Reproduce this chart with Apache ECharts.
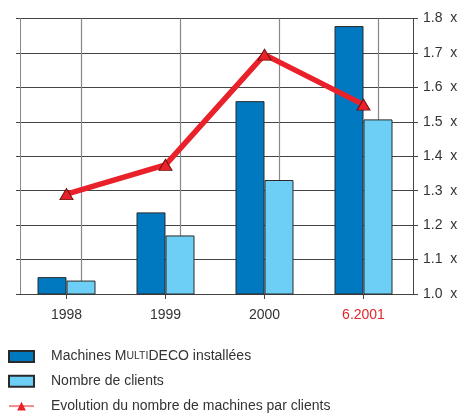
<!DOCTYPE html>
<html>
<head>
<meta charset="utf-8">
<script src="https://cdn.jsdelivr.net/npm/echarts@6/dist/echarts.min.js"></script>
<style>html,body{margin:0;padding:0;background:#fff}#c{width:462px;height:416px}</style>
</head>
<body>
<div id="c"></div>
<script>
var categories = ['1998', '1999', '2000', '6.2001'];
var machines = [1.049, 1.237, 1.560, 1.778];
var clients = [1.039, 1.170, 1.331, 1.507];
var ratio = [1.29, 1.375, 1.695, 1.55];
var yTicks = [1.0, 1.1, 1.2, 1.3, 1.4, 1.5, 1.6, 1.7, 1.8];
var labelColors = ['#333', '#333', '#333', '#e3262b'];

var FONT = 'Liberation Sans, Arial, sans-serif';

var chart = echarts.init(document.getElementById('c'), null, {renderer: 'canvas'});
chart.setOption({
  animation: false,
  grid: {left: 17, right: 49, top: 18.5, bottom: 122, containLabel: false},
  xAxis: {
    type: 'category',
    data: categories,
    axisLine: {show: true, lineStyle: {color: '#444', width: 1}},
    axisTick: {show: true, alignWithLabel: true, length: 5, lineStyle: {color: '#444'}},
    axisLabel: {
      margin: 14, fontSize: 14, fontFamily: FONT,
      color: function (v, i) { return labelColors[i]; }
    },
    splitLine: {show: false}
  },
  yAxis: [{
    type: 'value', position: 'right',
    min: yTicks[0], max: yTicks[yTicks.length - 1], interval: 0.1,
    axisLine: {show: true, lineStyle: {color: '#444'}},
    axisTick: {show: true, length: 5, lineStyle: {color: '#444'}},
    axisLabel: {
      margin: 10, fontSize: 14, fontFamily: FONT, color: '#333',
      formatter: function (v) { return v.toFixed(1) + '  x'; }
    },
    splitLine: {show: true, lineStyle: {color: '#444', width: 1}}
  }, {
    type: 'value', position: 'left', offset: -3,
    min: yTicks[0], max: yTicks[yTicks.length - 1], interval: 0.1,
    axisLine: {show: true, lineStyle: {color: '#888'}},
    axisTick: {show: true, length: 4, lineStyle: {color: '#444'}},
    axisLabel: {show: false},
    splitLine: {show: false}
  }],
  legend: {
    orient: 'vertical', left: 8, top: 348, height: 75, padding: 0,
    itemWidth: 25, itemHeight: 11, itemGap: 7.8,
    textStyle: {
      fontSize: 14, fontFamily: FONT, color: '#333', lineHeight: 17,
      padding: [0, 0, 0, 12],
      rich: {
        n: {fontSize: 14, fontFamily: FONT, color: '#333', lineHeight: 17},
        s: {fontSize: 10.5, fontFamily: FONT, color: '#333', lineHeight: 17}
      }
    },
    formatter: function (name) {
      if (name.indexOf('Machines') === 0) {
        return '{n|Machines M}{s|ULTI}{n|DECO installées}';
      }
      return name;
    },
    data: [
      {name: 'Machines MULTIDECO installées', icon: 'rect'},
      {name: 'Nombre de clients', icon: 'rect'},
      {name: 'Evolution du nombre de machines par clients',
       itemStyle: {color: '#e8212a', borderWidth: 0},
       lineStyle: {color: '#f08a8e', width: 2}}
    ]
  },
  series: [{
    name: 'Machines MULTIDECO installées',
    type: 'bar', yAxisIndex: 0,
    data: machines, barWidth: 29, barGap: '0%',
    itemStyle: {color: '#0079c0', borderColor: '#2a2a2a', borderWidth: 1},
    z: 2
  }, {
    name: 'Nombre de clients',
    type: 'bar', yAxisIndex: 0,
    data: clients, barWidth: 29, barGap: '0%',
    itemStyle: {color: '#6dcff6', borderColor: '#2a2a2a', borderWidth: 1},
    z: 2,
    markLine: {
      silent: true, symbol: 'none', z: 1,
      label: {show: false},
      lineStyle: {color: '#888', width: 1.2, type: 'solid'},
      data: categories.map(function (c) { return {xAxis: c}; })
    }
  }, {
    name: 'Evolution du nombre de machines par clients',
    type: 'line', yAxisIndex: 0,
    data: ratio,
    lineStyle: {color: '#e8212a', width: 5.5},
    itemStyle: {color: '#e8212a', borderColor: '#6a1010', borderWidth: 1},
    symbol: 'triangle', symbolSize: [13, 11],
    z: 5
  }]
});
</script>
</body>
</html>
